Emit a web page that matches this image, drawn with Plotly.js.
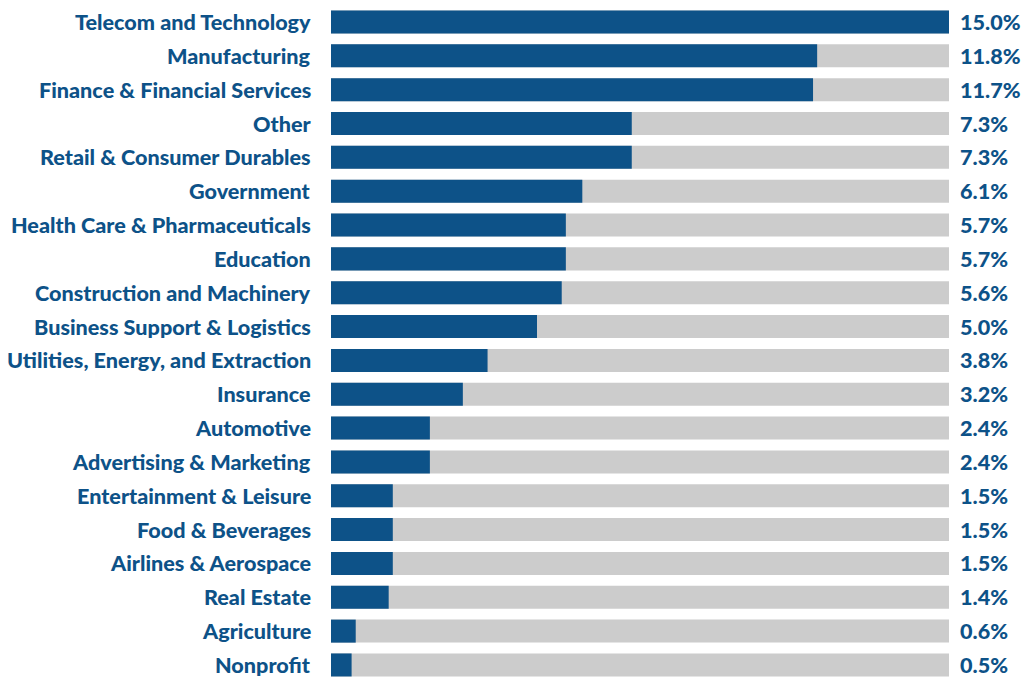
<!DOCTYPE html>
<html><head><meta charset="utf-8">
<script src="https://cdn.plot.ly/plotly-3.0.1.min.js"></script>
<style>html,body{margin:0;padding:0;background:#fff;}#chart{width:1024px;height:677px;}</style>
</head><body><div id="chart"></div>
<script>
const categories = ["Telecom and Technology","Manufacturing","Finance & Financial Services","Other","Retail & Consumer Durables","Government","Health Care & Pharmaceuticals","Education","Construction and Machinery","Business Support & Logistics","Utilities, Energy, and Extraction","Insurance","Automotive","Advertising & Marketing","Entertainment & Leisure","Food & Beverages","Airlines & Aerospace","Real Estate","Agriculture","Nonprofit"];
const values = [15.0,11.8,11.7,7.3,7.3,6.1,5.7,5.7,5.6,5.0,3.8,3.2,2.4,2.4,1.5,1.5,1.5,1.4,0.6,0.5];
const maxValue = 15.0;

const blue = "#0d5288", grey = "#cccccc";
const fontFam = "Lato, 'Open Sans', sans-serif";
const idx = categories.map((c,i)=>i);

const bg = {type:"bar", orientation:"h", y:idx, x:categories.map(()=>maxValue), marker:{color:grey}, width:0.68, hoverinfo:"skip"};
const fg = {type:"bar", orientation:"h", y:idx, x:values, marker:{color:blue}, width:0.68, hoverinfo:"skip"};

const annotations = [];
categories.forEach((c,i)=>{
  annotations.push({xref:"paper", yref:"y", x:0, y:i, text:c, showarrow:false, xanchor:"right", yanchor:"middle", xshift:-18, yshift:0, font:{family:fontFam, size:21.6, color:blue, weight:900}});
  annotations.push({xref:"paper", yref:"y", x:1, y:i, text:values[i].toFixed(1)+"%", showarrow:false, xanchor:"left", yanchor:"middle", xshift:9, yshift:0, font:{family:fontFam, size:21.6, color:blue, weight:900}});
});

const layout = {
  width:1024, height:677,
  margin:{l:331, r:75, t:0, b:0},
  paper_bgcolor:"#fff", plot_bgcolor:"#fff",
  barmode:"overlay", showlegend:false,
  xaxis:{range:[0,maxValue], visible:false, fixedrange:true},
  yaxis:{range:[19.356,-0.650], visible:false, fixedrange:true},
  annotations:annotations
};
Plotly.newPlot("chart",[bg,fg],layout,{staticPlot:true});
</script></body></html>
